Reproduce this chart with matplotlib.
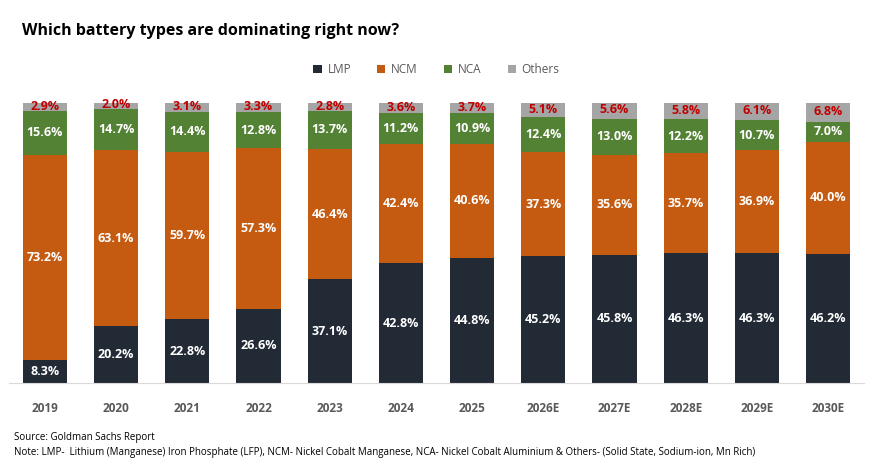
import matplotlib.pyplot as plt
import numpy as np

plt.rcParams['font.family'] = ['Open Sans', 'DejaVu Sans']

years = ['2019', '2020', '2021', '2022', '2023', '2024', '2025',
         '2026E', '2027E', '2028E', '2029E', '2030E']
lmp = [8.3, 20.2, 22.8, 26.6, 37.1, 42.8, 44.8, 45.2, 45.8, 46.3, 46.3, 46.2]
ncm = [73.2, 63.1, 59.7, 57.3, 46.4, 42.4, 40.6, 37.3, 35.6, 35.7, 36.9, 40.0]
nca = [15.6, 14.7, 14.4, 12.8, 13.7, 11.2, 10.9, 12.4, 13.0, 12.2, 10.7, 7.0]
others = [2.9, 2.0, 3.1, 3.3, 2.8, 3.6, 3.7, 5.1, 5.6, 5.8, 6.1, 6.8]

names = ['LMP', 'NCM', 'NCA', 'Others']
colors = ['#222A35', '#C55A11', '#548235', '#A5A5A5']

fig = plt.figure(figsize=(8.79, 4.70), dpi=100)
ax = fig.add_axes([0.0107, 0.185, 0.9718, 0.596])

x = np.arange(len(years))
bottom = np.zeros(len(years))
series = [lmp, ncm, nca, others]
for i, vals in enumerate(series):
    vals = np.array(vals)
    ax.bar(x, vals, 0.62, bottom=bottom, color=colors[i], label=names[i], zorder=2)
    for j in range(len(years)):
        if i < 3:
            ax.text(x[j], bottom[j] + vals[j] / 2, '%.1f%%' % vals[j], ha='center', va='center',
                    color='white', fontsize=9, fontweight='bold')
        else:
            ax.text(x[j], bottom[j] + vals[j] / 2 + 0.3, '%.1f%%' % vals[j], ha='center', va='center',
                    color='#C00000', fontsize=9, fontweight='bold')
    bottom = bottom + vals

ax.set_xlim(-0.5, len(years) - 0.5)
ax.set_ylim(0, 100)
ax.set_yticks([])
ax.set_xticks(x)
ax.set_xticklabels(years, fontsize=8.5, fontweight='bold', color='#595959')
ax.tick_params(axis='x', length=0, pad=14)
for s in ['top', 'right', 'left']:
    ax.spines[s].set_visible(False)
ax.spines['bottom'].set_color('#D9D9D9')

fig.text(0.025, 0.935, 'Which battery types are dominating right now?', fontsize=11.5,
         fontweight='bold', color='black', va='center')
ax.legend(loc='center', bbox_to_anchor=(0.5, 1.12), ncol=4, frameon=False, fontsize=8.5,
          handlelength=0.7, handleheight=0.7, columnspacing=2.2, handletextpad=0.5,
          labelcolor='#595959')

fig.text(0.016, 0.07, 'Source: Goldman Sachs Report', fontsize=7, va='center')
fig.text(0.016, 0.038, 'Note: LMP-  Lithium (Manganese) Iron Phosphate (LFP), NCM- Nickel Cobalt Manganese, '
         'NCA- Nickel Cobalt Aluminium & Others- (Solid State, Sodium-ion, Mn Rich)', fontsize=7, va='center')

fig.savefig('out.png', dpi=100)
